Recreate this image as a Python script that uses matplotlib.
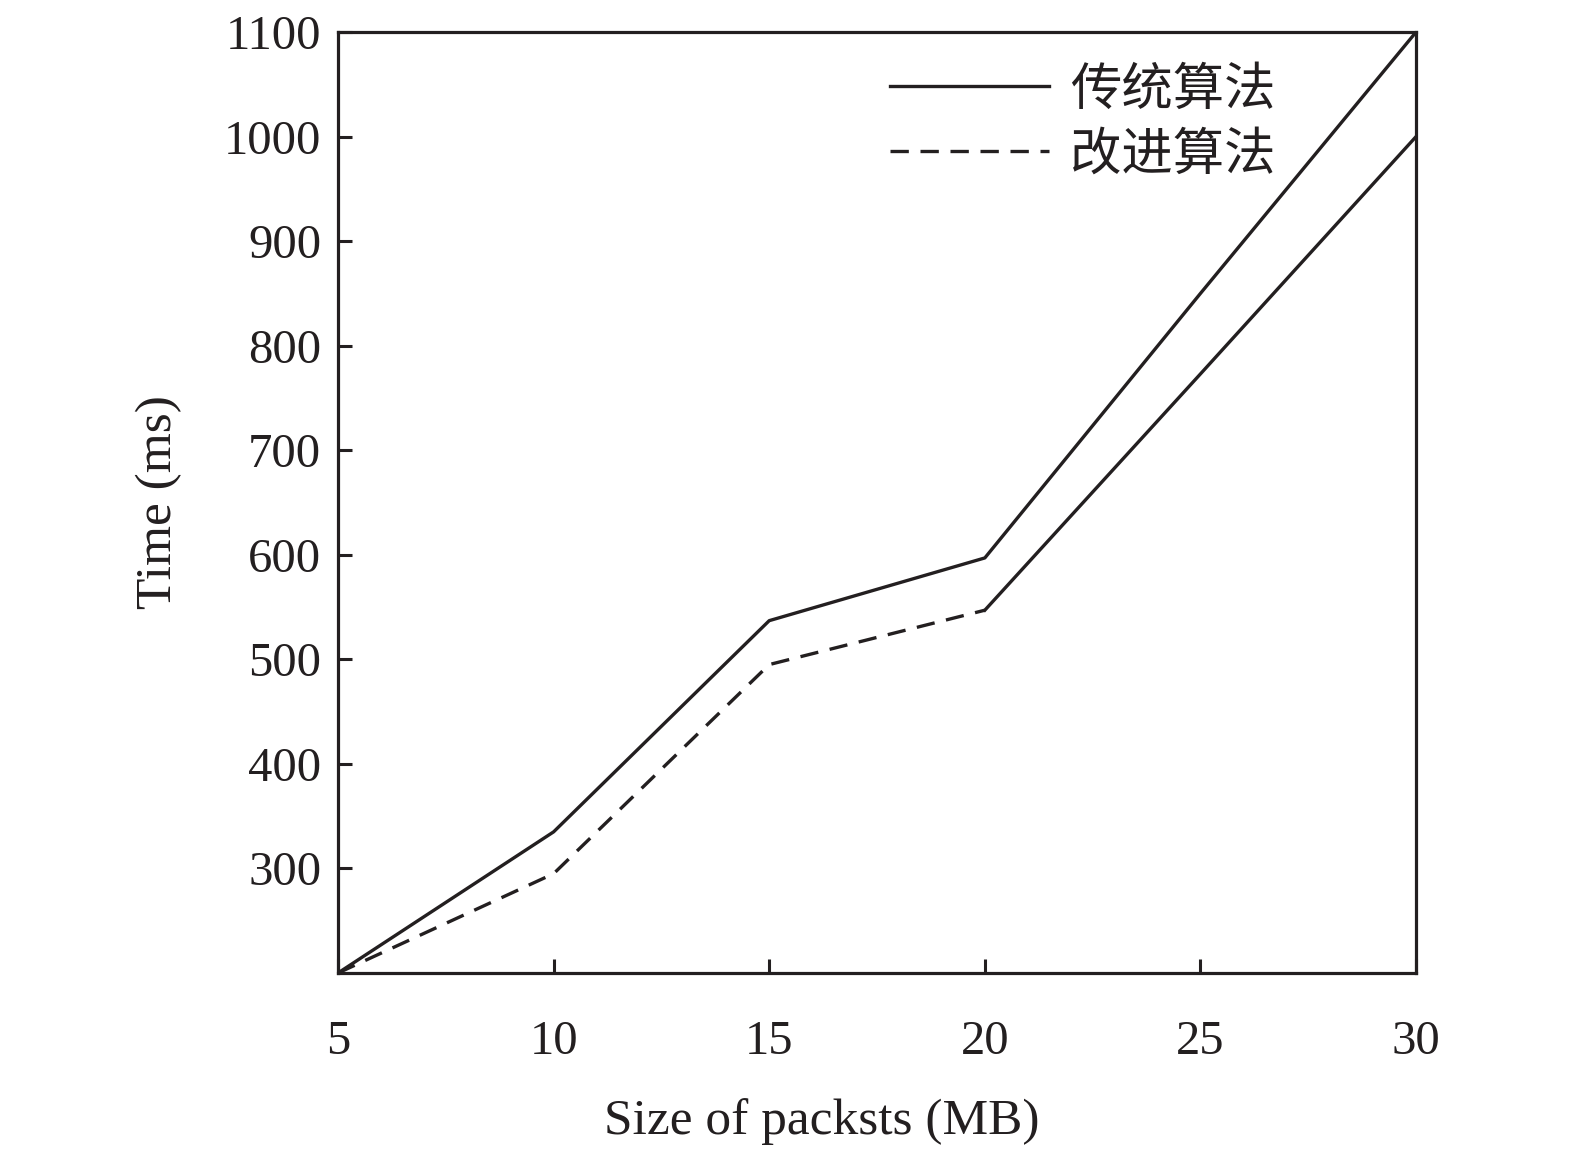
import matplotlib
matplotlib.use('Agg')
import matplotlib.pyplot as plt

# data
sizes = [5, 10, 15, 20, 25, 30]
traditional = [200, 335, 537, 597, 850, 1100]
improved = [200, 295, 495, 547, 773, 1000]
improved_dash_end = 3   # improved curve is dashed up to x=20, solid after
labels = ['传统算法', '改进算法']
x_ticks = [5, 10, 15, 20, 25, 30]
y_ticks = [300, 400, 500, 600, 700, 800, 900, 1000, 1100]

plt.rcParams['font.family'] = ['Liberation Serif', 'Noto Sans CJK SC']
plt.rcParams['axes.unicode_minus'] = False

fig = plt.figure(figsize=(15.75, 11.56), dpi=100)
ax = fig.add_axes([0.2146, 0.1583, 0.6845, 0.814])

lw = 2.4
ax.plot(sizes, traditional, color='#231f20', lw=lw, label=labels[0])
ax.plot(sizes[:improved_dash_end + 1], improved[:improved_dash_end + 1],
        color='#231f20', lw=lw, linestyle=(0, (5.5, 3.5)), label=labels[1])
ax.plot(sizes[improved_dash_end:], improved[improved_dash_end:],
        color='#231f20', lw=lw)

ax.set_xlim(5, 30)
ax.set_ylim(200, 1100)
ax.set_xticks(x_ticks)
ax.set_yticks(y_ticks)

for s in ax.spines.values():
    s.set_linewidth(2.3)
    s.set_color('#231f20')

ax.tick_params(axis='both', direction='in', length=10, width=2.2,
               colors='#231f20', labelsize=35)
ax.tick_params(axis='x', pad=34)
ax.tick_params(axis='y', pad=12)

ax.set_xlabel('Size of packsts (MB)', fontsize=37, color='#231f20')
ax.xaxis.set_label_coords(0.449, -0.133)
ax.set_ylabel('Time (ms)', fontsize=37, labelpad=30, color='#231f20')

leg = ax.legend(loc='upper left', bbox_to_anchor=(0.512, 0.962), frameon=False,
                fontsize=37, handlelength=3.1, handletextpad=0.4,
                labelspacing=0.33, borderpad=0, borderaxespad=0)
for t in leg.get_texts():
    t.set_color('#231f20')

fig.savefig('out.png', dpi=100)
